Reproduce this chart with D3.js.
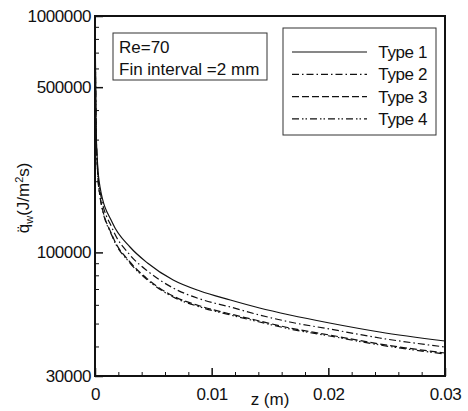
<!DOCTYPE html>
<meta charset="utf-8">
<style>
body { margin: 0; background: #fff; }
svg text { font-family: 'Liberation Sans', Arial, sans-serif; fill: #111; }
.axis text { font-size: 17px; letter-spacing: -0.4px; }
</style>
<body>
<div id="chart"></div>
<script src="https://d3js.org/d3.v7.min.js"></script>
<script>

// data
var z = [0, 0.0001, 0.0002, 0.00043, 0.0015, 0.003, 0.0045, 0.0067, 0.009, 0.0116, 0.0141, 0.0167, 0.0201, 0.0244, 0.03];
var type1 = [980000, 329400, 245950, 189050, 133150, 105400, 90180, 76400, 68650, 62880, 58170, 54350, 50280, 46060, 42190];
var type2 = [980000, 323000, 238800, 181800, 125600, 97500, 83420, 70690, 63510, 58750, 54350, 50770, 47420, 43440, 39800];
var type3 = [980000, 316800, 231900, 173200, 117300, 91070, 77150, 65390, 59330, 54880, 51270, 47890, 44730, 40970, 37530];
var type4 = [980000, 313700, 229700, 171500, 116200, 90180, 76400, 64760, 58750, 54350, 50770, 47420, 44300, 40580, 37160];

var seriesNames = ["Type 1", "Type 2", "Type 3", "Type 4"];
var xTicks = [0, 0.01, 0.02, 0.03];
var yTicks = [30000, 100000, 500000, 1000000];

var margin = {top: 16, right: 23, bottom: 35, left: 95},
    width = 468 - margin.left - margin.right,
    height = 411 - margin.top - margin.bottom;

var svg = d3.select("#chart").append("svg")
    .attr("width", 468)
    .attr("height", 411)
  .append("g")
    .attr("transform", "translate(" + margin.left + "," + margin.top + ")");

var x = d3.scaleLinear().domain([0, 0.03]).range([0, width]);
var y = d3.scaleLog().domain([30000, 1000000]).range([height, 0]);

var dashes = [null, "7,3,1.5,3", "7,3", "7,3,1.5,2,1.5,3"];
var allSeries = [type1, type2, type3, type4];

var line = d3.line().curve(d3.curveMonotoneX)
    .x(function(d) { return x(d[0]); })
    .y(function(d) { return y(d[1]); });

// curves
allSeries.forEach(function(s, i) {
    svg.append("path")
        .datum(z.map(function(v, j) { return [v, s[j]]; }))
        .attr("d", line)
        .style("fill", "none")
        .style("stroke", "#111")
        .style("stroke-width", 1.2)
        .style("stroke-dasharray", dashes[i]);
});

// minor ticks
var xMinor = d3.range(0, 0.0301, 0.002).filter(function(v) { return Math.abs(v / 0.01 - Math.round(v / 0.01)) > 0.01; });
var yMinor = [];
[10000, 100000].forEach(function(p) {
    for (var k = 2; k <= 9; k++) {
        var v = k * p;
        if (v > 30000 && v < 1000000 && v != 500000) yMinor.push(v);
    }
});

// X axis
var gx = svg.append("g")
    .attr("class", "axis")
    .attr("transform", "translate(0," + height + ")")
    .call(d3.axisBottom(x).tickValues(xTicks).tickSize(-8).tickPadding(12)
        .tickFormat(function(d) { return d === 0 ? "0" : d3.format(".2f")(d); }));
gx.selectAll("line").style("stroke", "#111").style("stroke-width", 1.5);
gx.select(".domain").remove();

svg.append("g")
    .attr("transform", "translate(0," + height + ")")
    .call(d3.axisBottom(x).tickValues(xMinor).tickSize(-4).tickFormat(""))
    .call(function(g) { g.select(".domain").remove(); })
    .selectAll("line").style("stroke", "#111");

// Y axis
var gy = svg.append("g")
    .attr("class", "axis")
    .call(d3.axisLeft(y).tickValues(yTicks).tickSize(-8).tickPadding(4)
        .tickFormat(d3.format("d")));
gy.selectAll("line").style("stroke", "#111").style("stroke-width", 1.5);
gy.select(".domain").remove();

svg.append("g")
    .call(d3.axisLeft(y).tickValues(yMinor).tickSize(-4).tickFormat(""))
    .call(function(g) { g.select(".domain").remove(); })
    .selectAll("line").style("stroke", "#111");

// frame
svg.append("rect")
    .attr("width", width)
    .attr("height", height)
    .style("fill", "none")
    .style("stroke", "#111")
    .style("stroke-width", 2);

// axis labels
svg.append("text")
    .attr("x", x(0.015))
    .attr("y", height + 29)
    .attr("text-anchor", "middle")
    .style("font-size", "17px")
    .text("z (m)");

var yl = svg.append("text")
    .attr("transform", "translate(" + (-66) + "," + (y(170000)) + ") rotate(-90)")
    .attr("text-anchor", "middle")
    .style("font-size", "17px");
yl.append("tspan").text("q\u0308");
yl.append("tspan").attr("dy", 4).style("font-size", "11px").text("w");
yl.append("tspan").attr("dy", -4).text("(J/m");
yl.append("tspan").attr("dy", -6).style("font-size", "11px").text("2");
yl.append("tspan").attr("dy", 6).text("s)");

// info box
svg.append("rect")
    .attr("x", 18).attr("y", 17)
    .attr("width", 154).attr("height", 47)
    .style("fill", "#fff")
    .style("stroke", "#333")
    .style("stroke-width", 1);
svg.append("text").attr("x", 24).attr("y", 37).style("font-size", "17px").text("Re=70");
svg.append("text").attr("x", 24).attr("y", 59).style("font-size", "17px").text("Fin interval =2 mm");

// legend
var lg = svg.append("g").attr("transform", "translate(188,12)");
lg.append("rect")
    .attr("width", 153).attr("height", 107)
    .style("fill", "#fff")
    .style("stroke", "#333")
    .style("stroke-width", 1);
seriesNames.forEach(function(name, i) {
    var ry = 24 + i * 22.3;
    lg.append("line")
        .attr("x1", 9).attr("x2", 84)
        .attr("y1", ry).attr("y2", ry)
        .style("stroke", "#111")
        .style("stroke-width", 1.2)
        .style("stroke-dasharray", dashes[i]);
    lg.append("text")
        .attr("x", 144).attr("y", ry + 6)
        .attr("text-anchor", "end")
        .style("font-size", "17px")
        .style("letter-spacing", "-0.4px")
        .text(name);
});

</script>
</body>
